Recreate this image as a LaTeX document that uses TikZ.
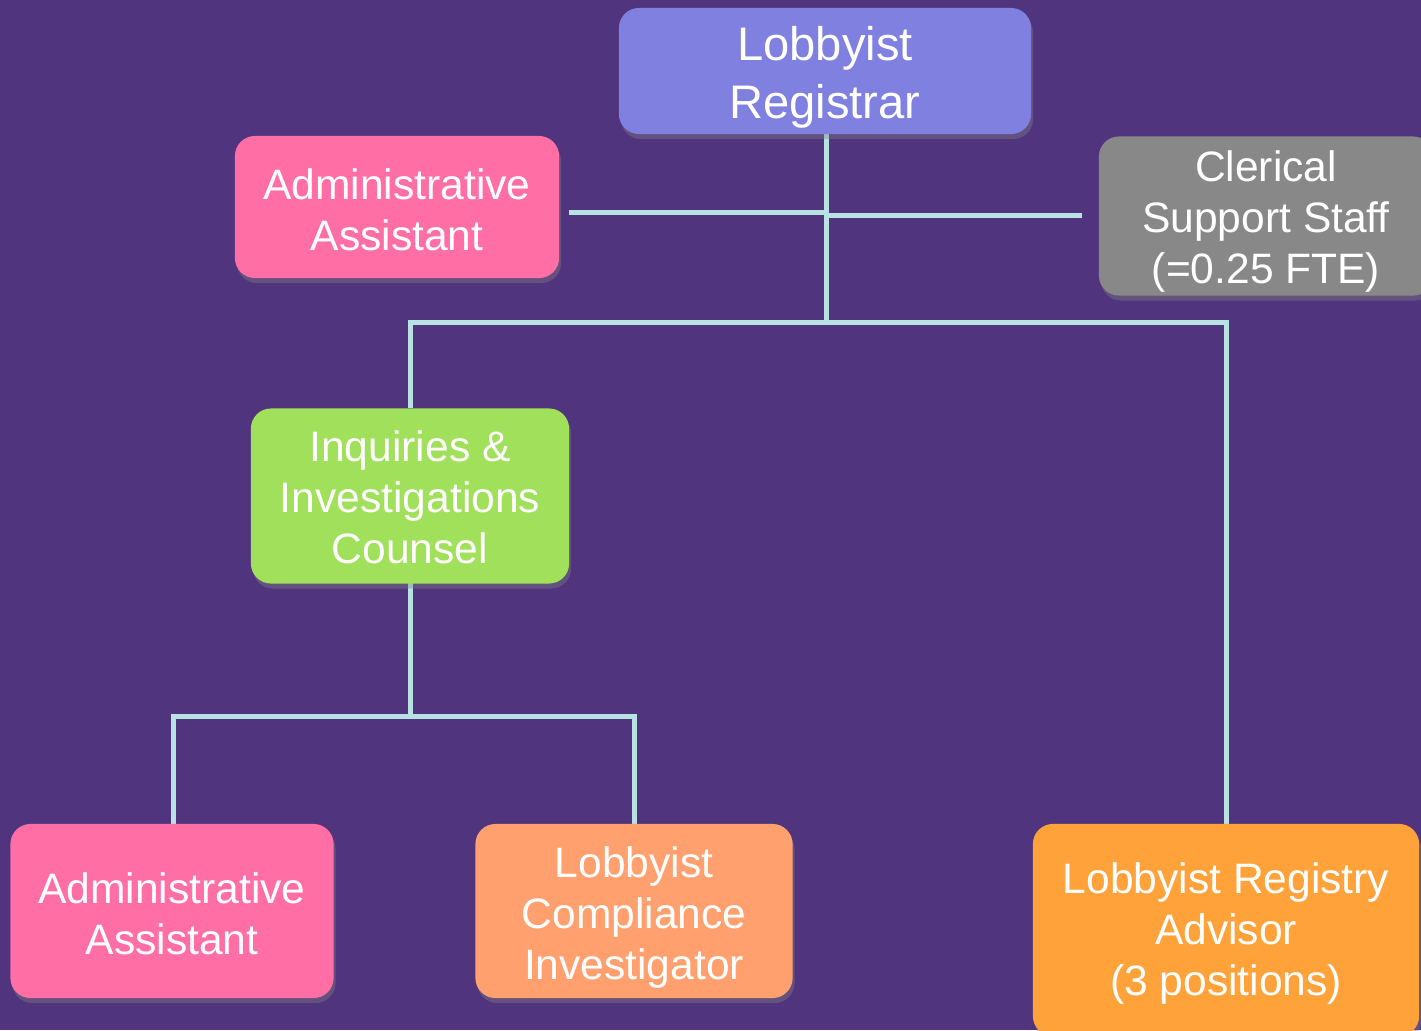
\documentclass[tikz,border=0pt]{standalone}
\usepackage{fontspec}
\setmainfont{Liberation Sans}
\usetikzlibrary{positioning}
\usetikzlibrary{shadows}
\definecolor{bgpurple}{HTML}{50347E}
\definecolor{regblue}{HTML}{8080E0}
\definecolor{aapink}{HTML}{FF6FA5}
\definecolor{csgray}{HTML}{888888}
\definecolor{iicgreen}{HTML}{A0E05A}
\definecolor{lcipeach}{HTML}{FFA06E}
\definecolor{lraorange}{HTML}{FFA23A}
\definecolor{linkblue}{HTML}{B8E2E4}
\tikzset{
 post/.style={rounded corners=0.2cm,inner sep=0pt,
  drop shadow={opacity=0.4,shadow xshift=0.02cm,shadow yshift=-0.05cm}},
 txt/.style={align=center,text=white,inner sep=0pt,font=\fontsize{12.1}{14.5}\selectfont},
 link/.style={draw=linkblue,line width=0.05cm}
}

\begin{document}
\begin{tikzpicture}[x=0.01cm,y=-0.01cm]
 \fill[bgpurple] (0,0) rectangle (1421,1030);
 \useasboundingbox (0,0) rectangle (1421,1030);
 \coordinate (hub) at (826,322);
 \coordinate (split) at (410,716);
 \coordinate (aaend) at (569,212);
 \coordinate (csend) at (1082,215);
 \draw[link] (826,134) -- (hub);
 \draw[link] (aaend) -- (aaend -| hub);
 \draw[link] (csend -| hub) -- (csend);
 \draw[link] (410,408) |- (hub) -| (1226,824);
 \draw[link] (410,583) -- (split);
 \draw[link] (173,824) |- (split) -| (634,824);
 \node[post,fill=regblue,minimum width=4.12cm,minimum height=1.26cm] (reg) at (825,71) {};
 \node[post,fill=aapink,minimum width=3.24cm,minimum height=1.42cm] (aa1) at (397,207) {};
 \node[post,fill=csgray,minimum width=3.34cm,minimum height=1.59cm] (cs) at (1266,216) {};
 \node[post,fill=iicgreen,minimum width=3.18cm,minimum height=1.75cm] (iic) at (410,496) {};
 \node[post,fill=aapink,minimum width=3.23cm,minimum height=1.74cm] (aa2) at (172,911) {};
 \node[post,fill=lcipeach,minimum width=3.17cm,minimum height=1.74cm] (lci) at (634,911) {};
 \node[post,fill=lraorange,minimum width=3.86cm,minimum height=2.12cm] (lra) at (1226,930) {};
 \node[txt,font=\fontsize{13.4}{16.5}\selectfont] (reg-t) at ([yshift=-0.065cm]reg.center) {Lobbyist\\Registrar};
 \node[txt] (aa1-t) at ([yshift=-0.03cm]aa1.center) {Administrative\\Assistant};
 \node[txt] (cs-t) at ([yshift=-0.05cm]cs.center) {Clerical\\Support Staff\\(=0.25 FTE)};
 \node[txt] (iic-t) at ([yshift=-0.01cm]iic.center) {Inquiries \&\\Investigations\\Counsel};
 \node[txt] (aa2-t) at ([yshift=-0.03cm]aa2.center) {Administrative\\Assistant};
 \node[txt] (lci-t) at ([yshift=-0.06cm]lci.center) {Lobbyist\\Compliance\\Investigator};
 \node[txt] (lra-t) at ([yshift=-0.035cm]lra.center) {Lobbyist Registry\\Advisor\\(3 positions)};
\end{tikzpicture}
\end{document}
